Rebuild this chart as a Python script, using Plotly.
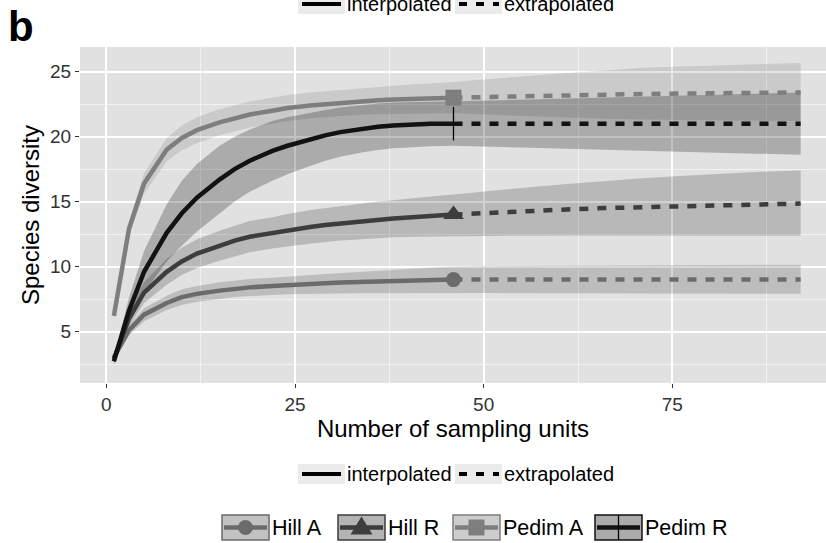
import plotly.graph_objects as go

# ---------------- data ----------------
sites = ["Hill A", "Hill R", "Pedim A", "Pedim R"]
n_interp = [1, 3, 5, 8, 10, 12, 15, 17, 19, 22, 24, 27, 29, 31, 34, 36, 38, 41, 43, 46]
n_extrap = [46, 51, 56, 61, 66, 71, 76, 81, 86, 92]

hillA_interp = [3.0, 5.1, 6.3, 7.2, 7.65, 7.9, 8.15, 8.3, 8.4, 8.5, 8.58, 8.66, 8.72, 8.77, 8.83, 8.87, 8.9, 8.94, 8.97, 9.0]
hillA_interp_hi = [3.2, 5.5, 6.8, 7.75, 8.25, 8.5, 8.8, 8.95, 9.05, 9.15, 9.25, 9.35, 9.42, 9.5, 9.6, 9.68, 9.75, 9.85, 9.92, 10.0]
hillA_interp_lo = [2.8, 4.7, 5.8, 6.65, 7.05, 7.3, 7.5, 7.65, 7.72, 7.82, 7.88, 7.9, 7.92, 7.93, 7.94, 7.95, 7.95, 7.96, 7.97, 7.97]
hillA_extrap = [9.0, 9.0, 9.0, 9.0, 9.0, 9.0, 9.0, 9.0, 9.0, 9.0]
hillA_extrap_hi = [10.0, 10.03, 10.05, 10.07, 10.09, 10.1, 10.12, 10.13, 10.14, 10.15]
hillA_extrap_lo = [7.97, 7.96, 7.95, 7.94, 7.93, 7.92, 7.92, 7.91, 7.9, 7.9]

hillR_interp = [2.9, 6.0, 8.0, 9.6, 10.4, 11.0, 11.6, 12.0, 12.3, 12.6, 12.8, 13.05, 13.2, 13.33, 13.5, 13.6, 13.7, 13.82, 13.9, 14.0]
hillR_interp_hi = [3.2, 6.6, 8.8, 10.6, 11.45, 12.1, 12.75, 13.15, 13.5, 13.8, 14.05, 14.35, 14.5, 14.68, 14.9, 15.0, 15.1, 15.3, 15.4, 15.55]
hillR_interp_lo = [2.6, 5.4, 7.2, 8.6, 9.35, 9.9, 10.45, 10.8, 11.1, 11.4, 11.55, 11.75, 11.9, 12.0, 12.1, 12.2, 12.25, 12.3, 12.33, 12.35]
hillR_extrap = [14.0, 14.15, 14.28, 14.4, 14.5, 14.58, 14.66, 14.73, 14.79, 14.85]
hillR_extrap_hi = [15.55, 15.85, 16.1, 16.35, 16.6, 16.8, 16.98, 17.13, 17.27, 17.4]
hillR_extrap_lo = [12.35, 12.37, 12.38, 12.39, 12.4, 12.4, 12.4, 12.39, 12.38, 12.38]

pedimA_interp = [6.2, 12.9, 16.4, 19.0, 19.9, 20.5, 21.1, 21.4, 21.7, 22.0, 22.2, 22.4, 22.5, 22.6, 22.75, 22.8, 22.86, 22.92, 22.96, 23.0]
pedimA_interp_hi = [6.5, 13.5, 17.2, 19.9, 20.85, 21.5, 22.1, 22.4, 22.7, 23.0, 23.2, 23.4, 23.5, 23.6, 23.75, 23.85, 23.95, 24.05, 24.1, 24.2]
pedimA_interp_lo = [5.9, 12.3, 15.6, 18.1, 18.95, 19.5, 20.1, 20.4, 20.7, 21.0, 21.2, 21.4, 21.5, 21.6, 21.7, 21.72, 21.75, 21.77, 21.79, 21.8]
pedimA_extrap = [23.0, 23.07, 23.13, 23.19, 23.24, 23.28, 23.32, 23.35, 23.38, 23.4]
pedimA_extrap_hi = [24.2, 24.45, 24.7, 24.9, 25.1, 25.3, 25.4, 25.5, 25.58, 25.66]
pedimA_extrap_lo = [21.8, 21.68, 21.57, 21.47, 21.38, 21.32, 21.27, 21.24, 21.22, 21.2]

pedimR_interp = [2.7, 6.6, 9.6, 12.6, 14.1, 15.3, 16.7, 17.5, 18.15, 18.9, 19.3, 19.8, 20.1, 20.35, 20.62, 20.76, 20.86, 20.95, 20.99, 21.0]
pedimR_interp_hi = [3.0, 7.6, 11.2, 14.8, 16.6, 17.9, 19.3, 20.0, 20.55, 21.2, 21.5, 21.85, 22.05, 22.25, 22.45, 22.55, 22.62, 22.67, 22.69, 22.7]
pedimR_interp_lo = [2.4, 5.6, 8.0, 10.4, 11.6, 12.7, 14.1, 15.0, 15.75, 16.6, 17.1, 17.75, 18.15, 18.45, 18.8, 18.97, 19.1, 19.22, 19.27, 19.3]
pedimR_extrap = [21.0, 21.0, 21.0, 21.0, 21.0, 21.0, 21.0, 21.0, 21.0, 21.0]
pedimR_extrap_hi = [22.7, 22.78, 22.86, 22.94, 23.02, 23.1, 23.18, 23.26, 23.33, 23.4]
pedimR_extrap_lo = [19.3, 19.22, 19.15, 19.08, 19.02, 18.95, 18.86, 18.78, 18.7, 18.6]

x_ticks = [0, 25, 50, 75]
y_ticks = [5, 10, 15, 20, 25]

# ---------------- style ----------------
FONT = "Liberation Sans, Arial, sans-serif"
line_col = {"Hill A": "#6b6b6b", "Hill R": "#3d3d3d", "Pedim A": "#7e7e7e", "Pedim R": "#121212"}
rib_col = {"Hill A": "rgba(0,0,0,0.155)", "Hill R": "rgba(0,0,0,0.18)",
           "Pedim A": "rgba(0,0,0,0.10)", "Pedim R": "rgba(0,0,0,0.24)"}
key_fill = {"Hill A": "#c2c2c2", "Hill R": "#b4b4b4", "Pedim A": "#cdcdcd", "Pedim R": "#ababab"}
symbols = {"Hill A": ("circle", 15), "Hill R": ("triangle-up", 18),
           "Pedim A": ("square", 16), "Pedim R": ("line-ns", 24)}

series = {
    "Hill A": (hillA_interp, hillA_interp_lo, hillA_interp_hi, hillA_extrap, hillA_extrap_lo, hillA_extrap_hi),
    "Hill R": (hillR_interp, hillR_interp_lo, hillR_interp_hi, hillR_extrap, hillR_extrap_lo, hillR_extrap_hi),
    "Pedim A": (pedimA_interp, pedimA_interp_lo, pedimA_interp_hi, pedimA_extrap, pedimA_extrap_lo, pedimA_extrap_hi),
    "Pedim R": (pedimR_interp, pedimR_interp_lo, pedimR_interp_hi, pedimR_extrap, pedimR_extrap_lo, pedimR_extrap_hi),
}

fig = go.Figure()

# ribbons
for s in sites:
    yi, lo_i, hi_i, ye, lo_e, hi_e = series[s]
    xs = n_interp + n_extrap[1:]
    hi = hi_i + hi_e[1:]
    lo = lo_i + lo_e[1:]
    fig.add_trace(go.Scatter(x=xs + xs[::-1], y=hi + lo[::-1], fill="toself",
                             fillcolor=rib_col[s], line=dict(width=0), mode="lines",
                             hoverinfo="skip", showlegend=False))

# lines
for s in sites:
    yi, lo_i, hi_i, ye, lo_e, hi_e = series[s]
    fig.add_trace(go.Scatter(x=n_interp, y=yi, mode="lines",
                             line=dict(color=line_col[s], width=4.5), name=s, showlegend=False))
    fig.add_trace(go.Scatter(x=n_extrap, y=ye, mode="lines",
                             line=dict(color=line_col[s], width=4.5, dash="9px,9px"),
                             showlegend=False))

# observed points
for s in sites:
    yi = series[s][0]
    sym, sz = symbols[s]
    mk = dict(symbol=sym, size=sz, color=line_col[s])
    if sym == "line-ns":
        mk["line"] = dict(color="#000000", width=1.3)
    fig.add_trace(go.Scatter(x=[n_interp[-1]], y=[yi[-1]], mode="markers",
                             marker=mk, showlegend=False))

# ---------------- decorations (legend keys, panel label) ----------------
def PX(p):
    return (p - 80) / 746.0

def PY(p):
    return (383 - p) / 336.0

shapes = []
annotations = []

def line_legend(yc):
    shapes.append(dict(type="rect", xref="paper", yref="paper", x0=PX(298), x1=PX(345),
                       y0=PY(yc + 10), y1=PY(yc - 10), fillcolor="#ebebeb", line=dict(width=0), layer="above"))
    shapes.append(dict(type="line", xref="paper", yref="paper", x0=PX(302), x1=PX(341),
                       y0=PY(yc), y1=PY(yc), line=dict(color="#000000", width=4), layer="above"))
    annotations.append(dict(xref="paper", yref="paper", x=PX(345), y=PY(yc), text="interpolated",
                            xanchor="left", yanchor="middle", showarrow=False,
                            font=dict(family=FONT, size=20, color="#000000")))
    shapes.append(dict(type="rect", xref="paper", yref="paper", x0=PX(455), x1=PX(502),
                       y0=PY(yc + 10), y1=PY(yc - 10), fillcolor="#ebebeb", line=dict(width=0), layer="above"))
    shapes.append(dict(type="line", xref="paper", yref="paper", x0=PX(459), x1=PX(499),
                       y0=PY(yc), y1=PY(yc), line=dict(color="#000000", width=4, dash="8px,9px"), layer="above"))
    annotations.append(dict(xref="paper", yref="paper", x=PX(502), y=PY(yc), text="extrapolated",
                            xanchor="left", yanchor="middle", showarrow=False,
                            font=dict(family=FONT, size=20, color="#000000")))

line_legend(4)
line_legend(474)

# site legend
key_x = {"Hill A": 222, "Hill R": 338, "Pedim A": 453, "Pedim R": 595}
yc = 527.5
for s in sites:
    x0 = key_x[s]
    x1 = x0 + 47
    xc = (x0 + x1) / 2
    shapes.append(dict(type="rect", xref="paper", yref="paper", x0=PX(x0), x1=PX(x1),
                       y0=PY(yc + 12.5), y1=PY(yc - 12.5), fillcolor=key_fill[s],
                       line=dict(color=line_col[s], width=1.5), layer="above"))
    shapes.append(dict(type="line", xref="paper", yref="paper", x0=PX(x0 + 2), x1=PX(x1 - 2),
                       y0=PY(yc), y1=PY(yc), line=dict(color=line_col[s], width=4.5), layer="above"))
    sym = symbols[s][0]
    if sym == "circle":
        shapes.append(dict(type="circle", xref="paper", yref="paper", x0=PX(xc - 7.5), x1=PX(xc + 7.5),
                           y0=PY(yc + 7.5), y1=PY(yc - 7.5), fillcolor=line_col[s],
                           line=dict(width=0), layer="above"))
    elif sym == "triangle-up":
        path = "M {} {} L {} {} L {} {} Z".format(PX(xc - 11), PY(yc + 7), PX(xc + 11), PY(yc + 7),
                                                 PX(xc), PY(yc - 11))
        shapes.append(dict(type="path", xref="paper", yref="paper", path=path,
                           fillcolor=line_col[s], line=dict(width=0), layer="above"))
    elif sym == "square":
        shapes.append(dict(type="rect", xref="paper", yref="paper", x0=PX(xc - 8), x1=PX(xc + 8),
                           y0=PY(yc + 8), y1=PY(yc - 8), fillcolor=line_col[s],
                           line=dict(width=0), layer="above"))
    else:
        shapes.append(dict(type="line", xref="paper", yref="paper", x0=PX(xc), x1=PX(xc),
                           y0=PY(yc + 12.5), y1=PY(yc - 12.5), line=dict(color="#000000", width=1.3),
                           layer="above"))
    annotations.append(dict(xref="paper", yref="paper", x=PX(x1 + 1), y=PY(yc), text=s,
                            xanchor="left", yanchor="middle", showarrow=False,
                            font=dict(family=FONT, size=21.5, color="#000000")))

# panel label
annotations.append(dict(xref="paper", yref="paper", x=PX(6), y=PY(27), text="<b>b</b>",
                        xanchor="left", yanchor="middle", showarrow=False,
                        font=dict(family=FONT, size=42, color="#000000")))

fig.update_layout(
    width=826, height=543,
    margin=dict(l=80, r=0, t=47, b=160),
    paper_bgcolor="#ffffff", plot_bgcolor="#e1e1e1",
    showlegend=False,
    font=dict(family=FONT, color="#000000"),
    shapes=shapes, annotations=annotations,
    xaxis=dict(range=[-3.49, 95.36], tickmode="array", tickvals=x_ticks,
               ticktext=[str(v) for v in x_ticks], showgrid=True, gridcolor="#ffffff", gridwidth=1.6,
               zeroline=False, showline=False, ticks="outside", ticklen=4, tickcolor="#333333",
               tickwidth=1, tickfont=dict(family=FONT, size=19, color="#333333"),
               minor=dict(tickmode="array", tickvals=[12.5, 37.5, 62.5, 87.5], showgrid=True,
                          gridcolor="#f2f2f2", gridwidth=0.8, ticks=""),
               title=dict(text="Number of sampling units", standoff=1,
                          font=dict(family=FONT, size=24, color="#000000"))),
    yaxis=dict(range=[1.04, 26.9], tickmode="array", tickvals=y_ticks,
               ticktext=[str(v) for v in y_ticks], showgrid=True, gridcolor="#ffffff", gridwidth=1.6,
               zeroline=False, showline=False, ticks="outside", ticklen=4, tickcolor="#333333",
               tickwidth=1, tickfont=dict(family=FONT, size=19, color="#333333"),
               minor=dict(tickmode="array", tickvals=[2.5, 7.5, 12.5, 17.5, 22.5], showgrid=True,
                          gridcolor="#f2f2f2", gridwidth=0.8, ticks=""),
               title=dict(text="Species diversity", standoff=3,
                          font=dict(family=FONT, size=24, color="#000000"))),
)

fig.write_html("out.html", config={"displayModeBar": False},
               post_script="document.body.style.margin='0';document.body.style.padding='0';")
